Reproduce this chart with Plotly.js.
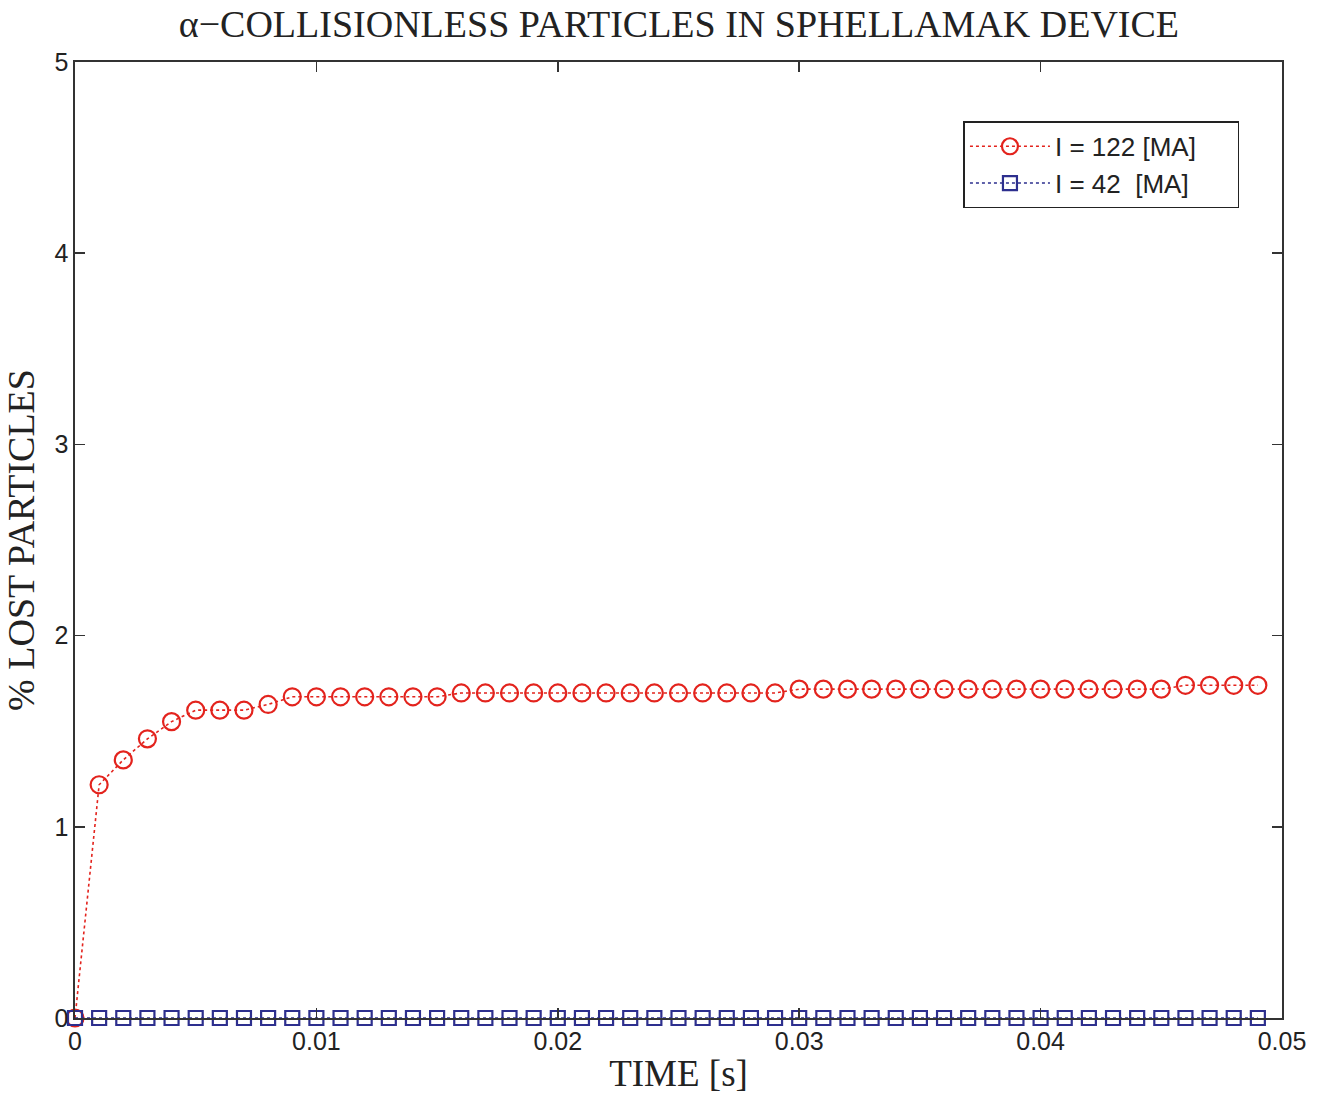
<!DOCTYPE html>
<html>
<head>
<meta charset="utf-8">
<script src="https://cdn.plot.ly/plotly-3.0.1.min.js"></script>
<style>
  html, body { margin: 0; padding: 0; background: #ffffff; }
  #chart { width: 1326px; height: 1113px; }
</style>
</head>
<body>
<div id="chart"></div>
<script>
// Sampling times [s]
const time = [
  0.000, 0.001, 0.002, 0.003, 0.004, 0.005, 0.006, 0.007, 0.008, 0.009,
  0.010, 0.011, 0.012, 0.013, 0.014, 0.015, 0.016, 0.017, 0.018, 0.019,
  0.020, 0.021, 0.022, 0.023, 0.024, 0.025, 0.026, 0.027, 0.028, 0.029,
  0.030, 0.031, 0.032, 0.033, 0.034, 0.035, 0.036, 0.037, 0.038, 0.039,
  0.040, 0.041, 0.042, 0.043, 0.044, 0.045, 0.046, 0.047, 0.048, 0.049
];

// % of lost alpha particles, I = 122 MA
const lost122 = [
  0.00, 1.22, 1.35, 1.46, 1.55, 1.61, 1.61, 1.61, 1.64, 1.68,
  1.68, 1.68, 1.68, 1.68, 1.68, 1.68, 1.70, 1.70, 1.70, 1.70,
  1.70, 1.70, 1.70, 1.70, 1.70, 1.70, 1.70, 1.70, 1.70, 1.70,
  1.72, 1.72, 1.72, 1.72, 1.72, 1.72, 1.72, 1.72, 1.72, 1.72,
  1.72, 1.72, 1.72, 1.72, 1.72, 1.72, 1.74, 1.74, 1.74, 1.74
];

// % of lost alpha particles, I = 42 MA
const lost42 = [
  0, 0, 0, 0, 0, 0, 0, 0, 0, 0,
  0, 0, 0, 0, 0, 0, 0, 0, 0, 0,
  0, 0, 0, 0, 0, 0, 0, 0, 0, 0,
  0, 0, 0, 0, 0, 0, 0, 0, 0, 0,
  0, 0, 0, 0, 0, 0, 0, 0, 0, 0
];

const xTicks = [0, 0.01, 0.02, 0.03, 0.04, 0.05];
const xTickText = ['0', '0.01', '0.02', '0.03', '0.04', '0.05'];
const yTicks = [0, 1, 2, 3, 4, 5];
const yTickText = ['0', '1', '2', '3', '4', '5'];

const seriesNames = ['I = 122 [MA]\u00A0\u00A0\u00A0\u00A0\u00A0', 'I = 42\u00A0\u00A0[MA]'];

const RED = '#e3231d';
const BLUE = '#2d2f8e';

const traces = [
  {
    x: time, y: lost122, name: seriesNames[0],
    type: 'scatter', mode: 'lines+markers', cliponaxis: false,
    line: { color: RED, width: 1.6, dash: 'dot' },
    marker: { symbol: 'circle-open', size: 17, color: RED, line: { width: 2.2, color: RED } }
  },
  {
    x: time, y: lost42, name: seriesNames[1],
    type: 'scatter', mode: 'lines+markers', cliponaxis: false,
    line: { color: BLUE, width: 1.6, dash: 'dot' },
    marker: { symbol: 'square-open', size: 14, color: BLUE, line: { width: 2.2, color: BLUE } }
  }
];

const sans = 'Liberation Sans, Arial, sans-serif';
const serif = 'Liberation Serif, Times New Roman, serif';

const layout = {
  width: 1326, height: 1113,
  margin: { l: 75, r: 44, t: 62, b: 95 },
  paper_bgcolor: '#ffffff',
  plot_bgcolor: '#ffffff',
  title: {
    text: 'α−COLLISIONLESS PARTICLES IN SPHELLAMAK DEVICE',
    font: { family: serif, size: 38, color: '#222222' },
    x: 0.512, xanchor: 'center', y: 0.979, yanchor: 'middle'
  },
  xaxis: {
    range: [0, 0.05],
    tickvals: xTicks, ticktext: xTickText,
    ticks: 'inside', ticklen: 10, tickwidth: 1.5, tickcolor: '#333333',
    showline: true, linecolor: '#333333', linewidth: 1.6, mirror: 'ticks',
    showgrid: false, zeroline: false,
    tickfont: { family: sans, size: 25, color: '#222222' },
    title: { text: 'TIME [s]', font: { family: serif, size: 37, color: '#222222' }, standoff: 6 }
  },
  yaxis: {
    range: [0, 5],
    tickvals: yTicks, ticktext: yTickText,
    ticks: 'inside', ticklen: 10, tickwidth: 1.5, tickcolor: '#333333',
    showline: true, linecolor: '#333333', linewidth: 1.6, mirror: 'ticks',
    showgrid: false, zeroline: false,
    tickfont: { family: sans, size: 25, color: '#222222' },
    title: { text: '% LOST PARTICLES', font: { family: serif, size: 38, color: '#222222' }, standoff: 8 }
  },
  showlegend: true,
  legend: {
    x: 0.736, y: 0.938, xanchor: 'left', yanchor: 'top',
    bgcolor: '#ffffff', bordercolor: '#222222', borderwidth: 1.6,
    font: { family: sans, size: 26, color: '#222222' },
    tracegroupgap: 0, itemwidth: 80
  }
};

Plotly.newPlot('chart', traces, layout, { displayModeBar: false, staticPlot: true });
</script>
</body>
</html>
